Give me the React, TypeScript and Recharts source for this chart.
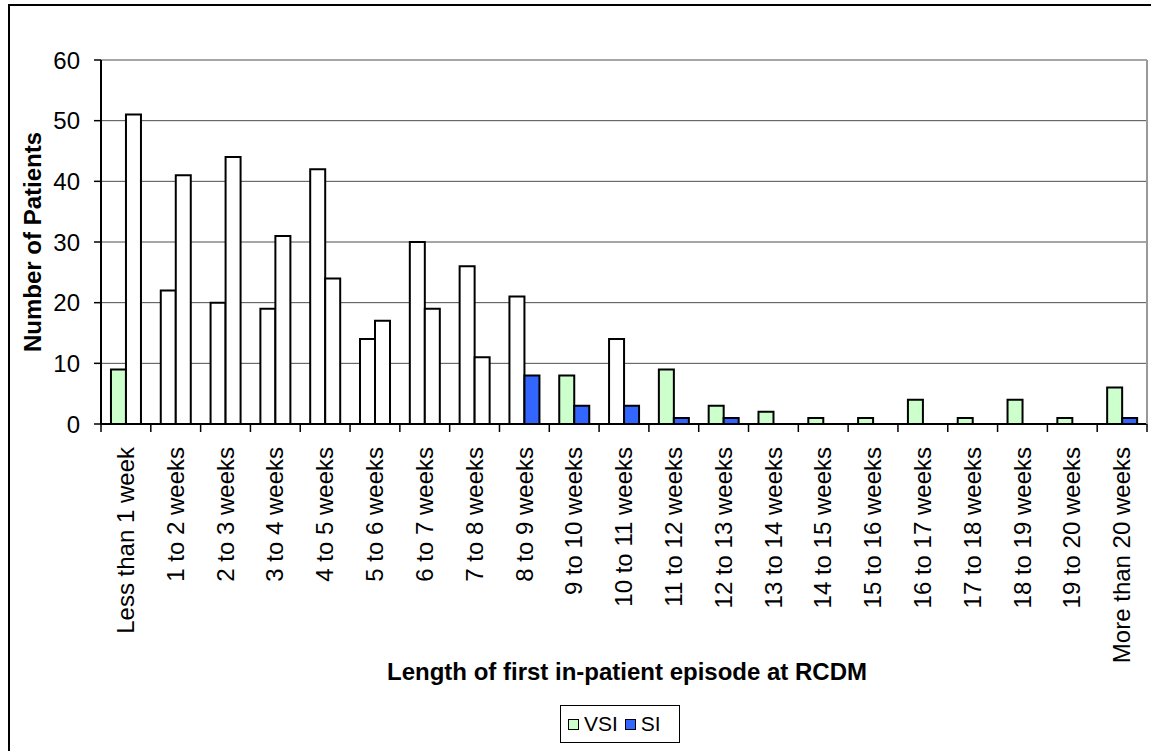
import React from 'react';
import { BarChart, Bar, XAxis, YAxis, CartesianGrid, Cell, Legend } from 'recharts';

const categories = [
  'Less than 1 week', '1 to 2 weeks', '2 to 3 weeks', '3 to 4 weeks', '4 to 5 weeks',
  '5 to 6 weeks', '6 to 7 weeks', '7 to 8 weeks', '8 to 9 weeks', '9 to 10 weeks',
  '10 to 11 weeks', '11 to 12 weeks', '12 to 13 weeks', '13 to 14 weeks', '14 to 15 weeks',
  '15 to 16 weeks', '16 to 17 weeks', '17 to 18 weeks', '18 to 19 weeks', '19 to 20 weeks',
  'More than 20 weeks',
];
const vsiValues = [9, 22, 20, 19, 42, 14, 30, 26, 21, 8, 14, 9, 3, 2, 1, 1, 4, 1, 4, 1, 6];
const siValues = [51, 41, 44, 31, 24, 17, 19, 11, 8, 3, 3, 1, 1, 0, 0, 0, 0, 0, 0, 0, 1];
const yTicks = [0, 10, 20, 30, 40, 50, 60];
const seriesOrder = ['VSI', 'SI'];

// styling: which data points are drawn without fill in the original
const vsiHollow = [false, true, true, true, true, true, true, true, true, false, true,
  false, false, false, false, false, false, false, false, false, false];
const siHollow = [true, true, true, true, true, true, true, true, false, false, false,
  false, false, false, false, false, false, false, false, false, false];

const FONT = '"Liberation Sans", Arial, Helvetica, sans-serif';
const VSI_COLOR = '#CCFFCC';
const SI_COLOR = '#3366FF';
const HOLLOW = '#FFFFFF';
const X_TICK_SIZE = 7;
const X_TICK_MARGIN = 16;

const data = categories.map((c, i) => ({ category: c, VSI: vsiValues[i], SI: siValues[i] }));

const RotatedTick = (props: any) => {
  const { x, y, payload, index } = props;
  const half = payload && typeof payload.offset === 'number' ? payload.offset : 0;
  const axisY = y - X_TICK_SIZE - X_TICK_MARGIN;
  const isLast = index === categories.length - 1;
  return (
    <g>
      {half > 0 && (
        <line x1={x - half} x2={x - half} y1={axisY} y2={axisY + X_TICK_SIZE + 1} stroke="#000" strokeWidth={1.5} />
      )}
      {half > 0 && isLast && (
        <line x1={x + half} x2={x + half} y1={axisY} y2={axisY + X_TICK_SIZE + 1} stroke="#000" strokeWidth={1.5} />
      )}
      <text
        x={x}
        y={y}
        transform={`rotate(-90, ${x}, ${y})`}
        textAnchor="end"
        dy="0.34em"
        fontSize={24}
        fill="#000"
        fontFamily={FONT}
      >
        {payload.value}
      </text>
    </g>
  );
};

const XTitle = (props: any) => {
  const vb = props.viewBox || {};
  const cx = vb.x + vb.width / 2 + 3;
  return (
    <text x={cx} y={vb.y + 256} textAnchor="middle" fontSize={24} fontWeight="bold" fill="#000" fontFamily={FONT}>
      Length of first in-patient episode at RCDM
    </text>
  );
};

const YTitle = (props: any) => {
  const vb = props.viewBox || {};
  const cy = vb.y + vb.height / 2;
  const cx = 32;
  return (
    <text
      x={cx}
      y={cy}
      transform={`rotate(-90, ${cx}, ${cy})`}
      textAnchor="middle"
      dy="0.36em"
      fontSize={24}
      fontWeight="bold"
      fill="#000"
      fontFamily={FONT}
    >
      Number of Patients
    </text>
  );
};

const LegendContent = (props: any) => {
  const payload = [...(props.payload || [])].sort(
    (a: any, b: any) => seriesOrder.indexOf(a.value) - seriesOrder.indexOf(b.value)
  );
  return (
    <div
      style={{
        display: 'inline-flex',
        alignItems: 'center',
        border: '1px solid #000',
        background: '#fff',
        padding: '6px 18px 6px 7px',
        fontFamily: FONT,
        fontSize: 21,
        lineHeight: '24px',
        color: '#000',
        boxSizing: 'border-box',
      }}
    >
      {payload.map((item: any, i: number) => (
        <span key={i} style={{ display: 'inline-flex', alignItems: 'center', marginRight: i < payload.length - 1 ? 7 : 0 }}>
          <span
            style={{
              display: 'inline-block',
              width: 9,
              height: 9,
              border: '1px solid #000',
              background: item.color,
              marginRight: 5,
            }}
          />
          {item.value}
        </span>
      ))}
    </div>
  );
};

export default function App() {
  return (
    <div style={{ position: 'fixed', left: 0, top: 0, width: 1151, height: 751, overflow: 'hidden', background: '#fff' }}>
      <div
        style={{
          position: 'absolute',
          left: 8,
          top: 4,
          width: 1200,
          height: 800,
          border: '2px solid #000',
          boxSizing: 'border-box',
        }}
      />
      <div style={{ position: 'absolute', left: 0, top: 0 }}>
        <BarChart
          width={1151}
          height={751}
          data={data}
          margin={{ top: 60, right: 3, bottom: 0, left: 0 }}
          barCategoryGap="20%"
          barGap={0}
          style={{ fontFamily: FONT }}
        >
          <CartesianGrid vertical={false} stroke="#4d4d4d" strokeWidth={1} />
          <XAxis
            dataKey="category"
            interval={0}
            tickLine={false}
            tickSize={X_TICK_SIZE}
            tickMargin={X_TICK_MARGIN}
            axisLine={{ stroke: '#000', strokeWidth: 2 }}
            tick={<RotatedTick />}
            height={327}
            label={<XTitle />}
          />
          <YAxis
            domain={[0, 60]}
            ticks={yTicks}
            width={101}
            tickSize={7}
            tickMargin={14}
            axisLine={{ stroke: '#000', strokeWidth: 2 }}
            tickLine={{ stroke: '#000', strokeWidth: 1.5 }}
            tick={{ fontSize: 24, fill: '#000', fontFamily: FONT }}
            label={<YTitle />}
          />
          <YAxis
            yAxisId="r"
            orientation="right"
            domain={[0, 60]}
            width={1}
            tick={false}
            tickLine={false}
            axisLine={{ stroke: '#999', strokeWidth: 2 }}
          />
          <Legend
            layout="horizontal"
            verticalAlign="middle"
            align="center"
            content={<LegendContent />}
            wrapperStyle={{ top: 705, left: 560, width: 'auto', height: 'auto' }}
          />
          <Bar dataKey="VSI" name="VSI" fill={VSI_COLOR} stroke="#000" strokeWidth={2} isAnimationActive={false}>
            {data.map((_, i) => (
              <Cell key={`v${i}`} fill={vsiHollow[i] ? HOLLOW : VSI_COLOR} />
            ))}
          </Bar>
          <Bar dataKey="SI" name="SI" fill={SI_COLOR} stroke="#000" strokeWidth={2} isAnimationActive={false}>
            {data.map((_, i) => (
              <Cell key={`s${i}`} fill={siHollow[i] ? HOLLOW : SI_COLOR} />
            ))}
          </Bar>
        </BarChart>
      </div>
    </div>
  );
}
